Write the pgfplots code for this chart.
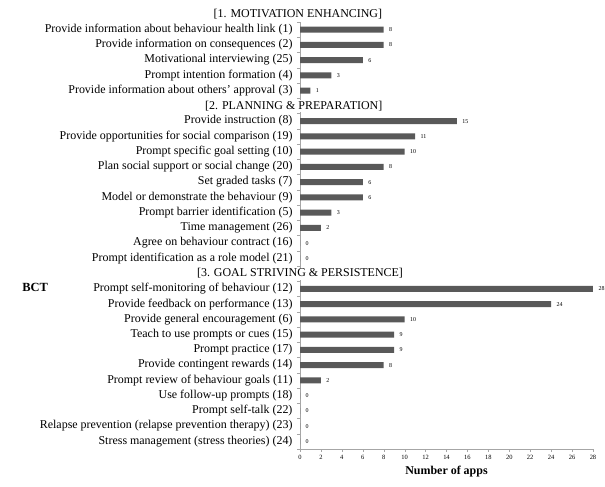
\documentclass[border=0pt]{standalone}
\usepackage{pgfplots}
\pgfplotsset{compat=1.18}
\usepackage{fontspec}
\setmainfont{Liberation Serif}
\definecolor{barc}{HTML}{595959}
\definecolor{axc}{HTML}{A6A6A6}
\begin{document}
\begin{tikzpicture}
\useasboundingbox (0,0) rectangle (605bp,487bp);
\begin{axis}[
  at={(300bp,38bp)}, anchor=south west,
  scale only axis, width=293bp, height=427bp,
  xmin=0, xmax=28, ymin=0.5, ymax=28.5,
  xbar, bar width=6bp,
  clip=false,
  axis x line*=bottom, axis y line*=left,
  axis line style={axc},
  xtick={0,2,...,28},
  ytick={1,...,28},
  yticklabels={
    Stress management (stress theories) (24),
    Relapse prevention (relapse prevention therapy) (23),
    Prompt self-talk (22),
    Use follow-up prompts (18),
    Prompt review of behaviour goals (11),
    Provide contingent rewards (14),
    Prompt practice (17),
    Teach to use prompts or cues (15),
    Provide general encouragement (6),
    Provide feedback on performance (13),
    Prompt self-monitoring of behaviour (12),
    {},
    Prompt identification as a role model (21),
    Agree on behaviour contract (16),
    Time management (26),
    Prompt barrier identification (5),
    Model or demonstrate the behaviour (9),
    Set graded tasks (7),
    Plan social support or social change (20),
    Prompt specific goal setting (10),
    Provide opportunities for social comparison (19),
    Provide instruction (8),
    {},
    Provide information about others’ approval (3),
    Prompt intention formation (4),
    Motivational interviewing (25),
    Provide information on consequences (2),
    Provide information about behaviour health link (1)
  },
  minor ytick={0.5,1.5,...,28.5},
  major tick length=0pt,
  minor tick length=3bp,
  tick align=outside,
  minor tick style={axc},
  extra x ticks={0,2,...,28}, extra x tick labels={},
  extra x tick style={major tick length=3bp, tick style={axc}},
  yticklabel style={font=\fontsize{12}{13}\selectfont, xshift=-4bp},
  xticklabel style={font=\fontsize{6.5}{7}\selectfont, yshift=-3bp},
  /pgf/number format/assume math mode=true,
  nodes near coords,
  every node near coord/.append style={font=\fontsize{6}{6}\selectfont, xshift=2bp, black},
]
\addplot[fill=barc, draw=none] coordinates {
(0,1) (0,2) (0,3) (0,4) (2,5) (8,6) (9,7) (9,8) (10,9) (24,10) (28,11)
(0,13) (0,14) (2,15) (3,16) (6,17) (6,18) (8,19) (10,20) (11,21) (15,22)
(1,24) (3,25) (6,26) (8,27) (8,28)
};
\node[fill=white, inner sep=1pt, font=\fontsize{12}{13}\selectfont] at (axis cs:-0.2,29) {[1. MOTIVATION ENHANCING]};
\node[fill=white, inner sep=1pt, font=\fontsize{12}{13}\selectfont] at (axis cs:-0.6,23) {[2. PLANNING \& PREPARATION]};
\node[fill=white, inner sep=1pt, font=\fontsize{12}{13}\selectfont] at (axis cs:0,12) {[3. GOAL STRIVING \& PERSISTENCE]};
\node[font=\fontsize{12.5}{13}\selectfont\bfseries] at (rel axis cs:-0.904,0.379) {BCT};
\node[font=\fontsize{12}{13}\selectfont\bfseries] at (rel axis cs:0.5,0) [yshift=-23bp] {Number of apps};
\end{axis}
\end{tikzpicture}
\end{document}
